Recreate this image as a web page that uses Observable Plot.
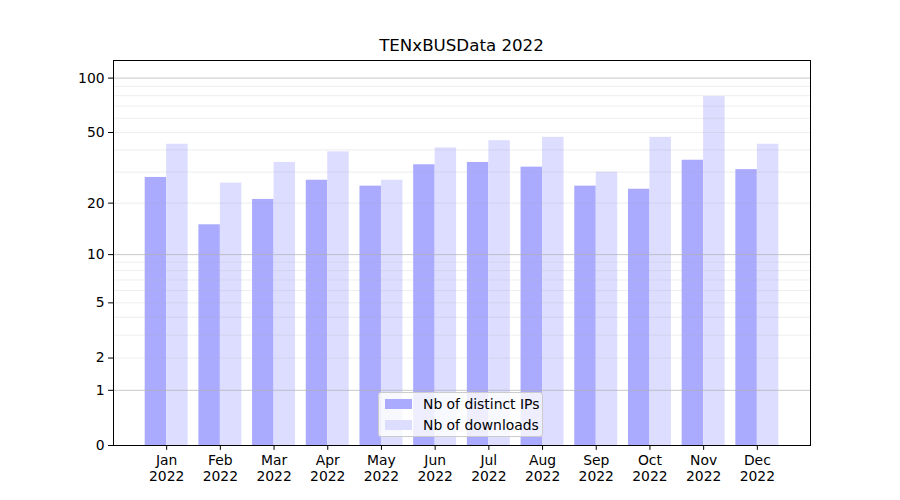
<!DOCTYPE html>
<html>
<head>
<meta charset="utf-8">
<script src="https://cdn.jsdelivr.net/npm/d3@7"></script>
<script src="https://cdn.jsdelivr.net/npm/@observablehq/plot@0.6"></script>
<style>
  body { margin: 0; background: #fff; }
  #wrap { position: relative; width: 900px; height: 500px; font-family: "DejaVu Sans", sans-serif; color: #000; }
  #title { position: absolute; left: 113px; width: 697px; top: 38px; text-align: center; font-size: 16.67px; line-height: 1; white-space: nowrap; }
  #legend { position: absolute; left: 378px; top: 392px; width: 165px; height: 45px; box-sizing: border-box;
            border: 1px solid #cccccc; border-radius: 3px; background: rgba(255,255,255,0.8); }
  .sw { position: absolute; left: 6px; width: 27px; height: 10px; }
  .lt { position: absolute; left: 44px; font-size: 13.9px; line-height: 1; white-space: nowrap; }
</style>
</head>
<body>
<div id="wrap">
  <div id="chart"></div>
  <div id="title"></div>
  <div id="legend"></div>
</div>
<script>
const months = ["Jan", "Feb", "Mar", "Apr", "May", "Jun", "Jul", "Aug", "Sep", "Oct", "Nov", "Dec"];
const year = "2022";
const distinctIPs = [28, 15, 21, 27, 25, 33, 34, 32, 25, 24, 35, 31];
const downloads   = [43, 26, 34, 39, 27, 41, 45, 47, 30, 47, 79, 43];
const seriesNames = ["Nb of distinct IPs", "Nb of downloads"];
const seriesColors = ["#aaaaff", "#ddddff"];
const yTicks = [0, 1, 2, 5, 10, 20, 50, 100];
const majorGrid = [1, 10, 100];
const minorGrid = [2, 3, 4, 5, 6, 7, 8, 9, 20, 30, 40, 50, 60, 70, 80, 90];
const yMax = 125;
const titleText = "TENxBUSData 2022";

const barW = 0.4;
const data = months.map((m, i) => ({i, month: m, ips: distinctIPs[i], dl: downloads[i]}));

const chart = Plot.plot({
  width: 900,
  height: 500,
  marginLeft: 113,
  marginRight: 90,
  marginTop: 60,
  marginBottom: 55,
  style: {fontFamily: "DejaVu Sans", fontSize: "13.9px", background: "white", color: "black"},
  x: {type: "linear", domain: [-0.4 - 0.59, 11.4 + 0.59]},
  y: {type: "symlog", constant: 1, domain: [0, yMax]},
  marks: [
    Plot.rect(data, {x1: d => d.i - barW, x2: d => d.i, y1: 0, y2: "ips", fill: seriesColors[0]}),
    Plot.rect(data, {x1: d => d.i, x2: d => d.i + barW, y1: 0, y2: "dl", fill: seriesColors[1]}),
    Plot.ruleY(minorGrid, {stroke: "#b0b0b0", strokeOpacity: 0.22, strokeWidth: 1}),
    Plot.ruleY(majorGrid, {stroke: "#b0b0b0", strokeOpacity: 0.7, strokeWidth: 1}),
    Plot.axisY({ticks: yTicks, tickFormat: d => String(d), tickSize: 4.9, tickPadding: 4, label: null}),
    Plot.axisX({ticks: d3.range(months.length), tickFormat: i => months[i] + "\n" + year,
                tickSize: 4.9, tickPadding: 4, label: null, lineHeight: 1.12}),
    Plot.frame({stroke: "black", strokeWidth: 1})
  ]
});
document.getElementById("chart").appendChild(chart);
document.getElementById("title").textContent = titleText;

const legend = document.getElementById("legend");
seriesNames.forEach((name, k) => {
  const sw = document.createElement("div");
  sw.className = "sw";
  sw.style.top = (6 + k * 21) + "px";
  sw.style.background = seriesColors[k];
  legend.appendChild(sw);
  const t = document.createElement("div");
  t.className = "lt";
  t.style.top = (5 + k * 21) + "px";
  t.textContent = name;
  legend.appendChild(t);
});
</script>
</body>
</html>
